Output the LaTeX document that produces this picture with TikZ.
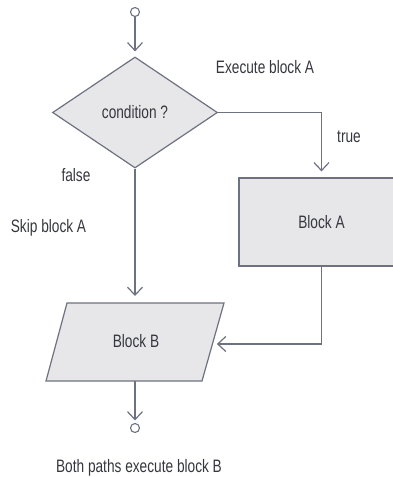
\documentclass[tikz,border=0pt]{standalone}
\usepackage{fontspec}
\setmainfont{Liberation Sans}[FakeStretch=0.76]
\usetikzlibrary{arrows.meta,shapes.geometric}
\definecolor{edge}{HTML}{6E7180}
\definecolor{boxfill}{HTML}{E7E7EA}
\definecolor{ink}{HTML}{36373F}
\begin{document}
\begin{tikzpicture}[x=1pt,y=-1pt,
  every node/.style={text=ink,font=\fontsize{18}{21}\selectfont},
  terminal/.style={circle,draw=edge,fill=white,line width=1.1pt,minimum size=9pt,inner sep=0pt},
  decision/.style={diamond,draw=edge,fill=boxfill,line width=1.2pt,minimum width=165pt,minimum height=111pt,inner sep=0pt},
  process/.style={rectangle,draw=edge,fill=boxfill,line width=1.2pt,minimum width=165pt,minimum height=88pt,inner sep=0pt},
  flow/.style={draw=edge,line width=1.2pt,-{Straight Barb[length=8pt,width=15pt]}},
  caption/.style={inner sep=0pt}]
\useasboundingbox (0,0) rectangle (393,477);
\clip (0,0) rectangle (393,477);

% start and end markers
\node[terminal] (start) at (135,12) {};
\node[terminal] (stop) at (135,428) {};

% decision and the conditional block
\node[decision] (cond) at (135,112.5) {condition ?};
\node[process] (blockA) at (321.5,222) {Block A};

% parallelogram for block B
\coordinate (bTL) at (67,303);
\coordinate (bTR) at (224,303);
\coordinate (bBR) at (202,381);
\coordinate (bBL) at (46,381);
\coordinate (bTop) at (135,303);
\coordinate (bRight) at (212.4,344);
\coordinate (bBottom) at (135,381);
\draw[edge,fill=boxfill,line width=1.2pt,line join=miter] (bTL) -- (bTR) -- (bBR) -- (bBL) -- cycle;
\node[caption] (blockB) at (136,341) {Block B};

% connectors
\draw[flow,shorten >=5pt] (start.south) -- (cond.north);
\draw[flow,shorten >=6pt] (cond.east) -| (blockA.north);
\draw[flow,shorten >=7pt] (cond.south) -- (bTop);
\draw[flow,shorten >=4.5pt] (blockA.south) |- (bRight);
\draw[flow,shorten >=2.5pt] (bBottom) -- (stop.north);

% annotations
\node[caption] (lblExec) at (265,67) {Execute block A};
\node[caption] (lblTrue) at (349,137) {true};
\node[caption] (lblFalse) at (76,175) {false};
\node[caption] (lblSkip) at (48.5,228) {Skip block A};
\node[caption] (lblBoth) at (139,468) {Both paths execute block B};
\end{tikzpicture}
\end{document}
